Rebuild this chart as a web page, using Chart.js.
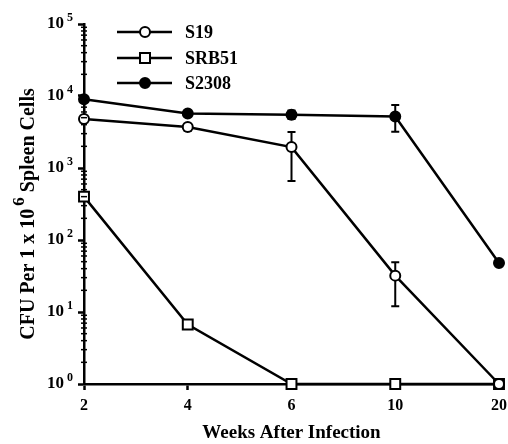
<!DOCTYPE html>
<html lang="en">
<head>
  <meta charset="UTF-8">
  <title>CFU in spleen</title>
  <style>
    html, body { margin: 0; padding: 0; background: #fff; }
    .chart-container { width: 508px; height: 444px; position: relative; }
  </style>
</head>
<body>
  <div class="chart-container">
    <canvas id="cfuChart"></canvas>
  </div>

  <script src="https://cdn.jsdelivr.net/npm/chart.js"></script>
  <script>
    // weeks after infection (equally spaced categories)
    const weeks = ['2', '4', '6', '10', '20'];

    const s19 = [4800, 3700, 1950, 32, 1];
    const s19Lo = [null, 3300, 660, 12, null];
    const s19Hi = [null, 4100, 3150, 49, null];

    const srb51 = [400, 6.7, 1, 1, 1];
    const srb51Lo = [null, 5.9, null, null, null];
    const srb51Hi = [null, 7.4, null, null, null];

    const s2308 = [9000, 5700, 5500, 5200, 48];
    const s2308Lo = [null, null, 4800, 3200, null];
    const s2308Hi = [null, null, 6300, 7500, null];

    const yTicks = [1, 10, 100, 1000, 10000, 100000];

    const serif = '"Liberation Serif", "DejaVu Serif", serif';

    // vertical error bars, drawn under the markers
    const errorBars = {
      id: 'errorBars',
      beforeDatasetsDraw(chart) {
        const { ctx, scales: { x, y } } = chart;
        ctx.save();
        ctx.strokeStyle = '#000';
        ctx.lineWidth = 2;
        chart.data.datasets.forEach(ds => {
          ds.lo.forEach((lo, i) => {
            if (lo == null) return;
            const px = x.getPixelForValue(i);
            const y1 = y.getPixelForValue(lo);
            const y2 = y.getPixelForValue(ds.hi[i]);
            ctx.beginPath();
            ctx.moveTo(px, y1); ctx.lineTo(px, y2);
            ctx.moveTo(px - 4, y1); ctx.lineTo(px + 4, y1);
            ctx.moveTo(px - 4, y2); ctx.lineTo(px + 4, y2);
            ctx.stroke();
          });
        });
        ctx.restore();
      }
    };

    // log axis labels with superscript exponents, minor ticks, y title, legend
    const decorations = {
      id: 'decorations',
      afterDraw(chart) {
        const { ctx, chartArea, scales: { y } } = chart;
        ctx.save();
        ctx.fillStyle = '#000';
        ctx.strokeStyle = '#000';

        // minor ticks
        ctx.lineWidth = 1.5;
        for (let e = 0; e < 5; e++) {
          for (let m = 2; m <= 9; m++) {
            const py = y.getPixelForValue(m * Math.pow(10, e));
            ctx.beginPath();
            ctx.moveTo(chartArea.left - 3, py);
            ctx.lineTo(chartArea.left + 3, py);
            ctx.stroke();
          }
        }

        // tick labels 10^n
        yTicks.forEach(v => {
          const e = Math.round(Math.log10(v));
          const py = y.getPixelForValue(v);
          ctx.font = 'bold 17px ' + serif;
          ctx.textAlign = 'left';
          ctx.textBaseline = 'middle';
          ctx.fillText('10', 47, py);
          ctx.font = 'bold 12px ' + serif;
          ctx.fillText(String(e), 67, py - 6);
        });

        // y title
        ctx.save();
        ctx.translate(29, 214);
        ctx.rotate(-Math.PI / 2);
        ctx.textBaseline = 'middle';
        const partA = 'CFU Per 1 x 10';
        const partB = ' Spleen Cells';
        ctx.font = 'bold 20px ' + serif;
        const wA = ctx.measureText(partA).width;
        const wB = ctx.measureText(partB).width;
        ctx.font = 'bold 17px ' + serif;
        const wS = ctx.measureText('6').width + 3;
        const sx = -(wA + wS + wB) / 2;
        ctx.textAlign = 'left';
        ctx.font = 'bold 20px ' + serif;
        ctx.fillText(partA, sx, 0);
        ctx.font = 'bold 17px ' + serif;
        ctx.fillText('6', sx + wA + 3, -9);
        ctx.font = 'bold 20px ' + serif;
        ctx.fillText(partB, sx + wA + wS, 0);
        ctx.restore();

        // legend
        const rows = [32, 58, 83];
        chart.data.datasets.forEach((ds, i) => {
          const ly = rows[i];
          ctx.lineWidth = 2.5;
          ctx.beginPath();
          ctx.moveTo(117, ly); ctx.lineTo(172, ly);
          ctx.stroke();
          ctx.lineWidth = 2;
          ctx.fillStyle = ds.pointBackgroundColor;
          ctx.beginPath();
          if (ds.pointStyle === 'rect') {
            ctx.rect(145 - 5, ly - 5, 10, 10);
          } else {
            ctx.arc(145, ly, 5, 0, Math.PI * 2);
          }
          ctx.fill();
          ctx.stroke();
          ctx.fillStyle = '#000';
          ctx.font = 'bold 18px ' + serif;
          ctx.textAlign = 'left';
          ctx.textBaseline = 'middle';
          ctx.fillText(ds.label, 185, ly + 1);
        });
        ctx.restore();
      }
    };

    const line = (label, data, lo, hi, style, fill) => ({
      label, data, lo, hi,
      borderColor: '#000',
      borderWidth: 2.5,
      pointStyle: style,
      pointRadius: style === 'rect' ? 7 : 5,
      pointBackgroundColor: fill,
      pointBorderColor: '#000',
      pointBorderWidth: 2,
      tension: 0,
      fill: false,
      clip: false
    });

    new Chart(document.getElementById('cfuChart'), {
      type: 'line',
      data: {
        labels: weeks,
        datasets: [
          line('S19', s19, s19Lo, s19Hi, 'circle', '#fff'),
          line('SRB51', srb51, srb51Lo, srb51Hi, 'rect', '#fff'),
          line('S2308', s2308, s2308Lo, s2308Hi, 'circle', '#000')
        ]
      },
      options: {
        responsive: true,
        maintainAspectRatio: false,
        animation: false,
        layout: { padding: { top: 24, right: 0, left: 0, bottom: 0 } },
        plugins: {
          legend: { display: false },
          tooltip: { enabled: false }
        },
        scales: {
          x: {
            offset: false,
            afterFit(scale) { scale.height = 60; scale.paddingRight = 9; },
            grid: { drawOnChartArea: false, tickLength: 6, tickWidth: 2.5, tickColor: '#000' },
            border: { color: '#000', width: 2.5 },
            ticks: { color: '#000', font: { family: serif, size: 16, weight: 'bold' }, padding: 6 },
            title: {
              display: true, text: 'Weeks After Infection', color: '#000',
              font: { family: serif, size: 19, weight: 'bold' }, padding: { top: 8, bottom: 0 }
            }
          },
          y: {
            type: 'logarithmic',
            min: 1,
            max: 100000,
            afterFit(scale) { scale.width = 84; },
            afterBuildTicks(scale) { scale.ticks = yTicks.map(v => ({ value: v })); },
            grid: { drawOnChartArea: false, tickLength: 6, tickWidth: 2.5, tickColor: '#000' },
            border: { color: '#000', width: 2.5 },
            ticks: { display: false }
          }
        }
      },
      plugins: [errorBars, decorations]
    });
  </script>
</body>
</html>
